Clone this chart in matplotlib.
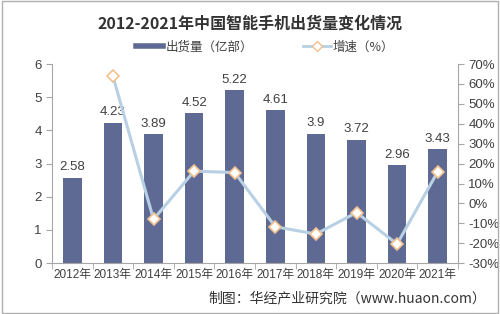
import matplotlib
matplotlib.use("Agg")
import matplotlib.pyplot as plt
from matplotlib.lines import Line2D
from matplotlib.patches import Rectangle

plt.rcParams["font.family"] = ["Noto Sans CJK SC", "DejaVu Sans"]
NUM_FONT = ["Liberation Sans", "Noto Sans CJK SC"]

years = ["2012年", "2013年", "2014年", "2015年", "2016年",
         "2017年", "2018年", "2019年", "2020年", "2021年"]
shipments = [2.58, 4.23, 3.89, 4.52, 5.22, 4.61, 3.9, 3.72, 2.96, 3.43]
growth = [None, 64.0, -8.0, 16.2, 15.5, -11.7, -15.4, -4.6, -20.4, 15.9]
y_ticks = [0, 1, 2, 3, 4, 5, 6]
pct_ticks = [-30, -20, -10, 0, 10, 20, 30, 40, 50, 60, 70]

bar_color = "#5f6a94"
line_color = "#b7d0e4"
marker_edge = "#f2c08e"
axis_color = "#a6a6a6"
text_color = "#404040"

fig = plt.figure(figsize=(5, 3.14), dpi=100)
fig.patches.append(Rectangle((0.004, 0.004), 0.992, 0.992, transform=fig.transFigure,
                             fill=False, edgecolor="#b0b0b0", linewidth=1.0))

ax = fig.add_axes([0.104, 0.162, 0.812, 0.634])
x = list(range(len(years)))
ax.bar(x, shipments, width=0.46, color=bar_color, zorder=2)
for xi, v in zip(x, shipments):
    ax.text(xi, v + 0.13, f"{v:g}", ha="center", va="bottom", fontsize=9.5,
            color=text_color, family=NUM_FONT)

ax.set_xlim(-0.5, len(years) - 0.5)
ax.set_ylim(0, 6)
ax.set_yticks(y_ticks)
ax.set_xticks(x)
ax.set_xticklabels(years, fontsize=8.5, color=text_color, family=NUM_FONT)
ax.set_xticks([i + 0.5 for i in range(-1, len(years))], minor=True)
ax.tick_params(axis="x", which="major", length=0, pad=4)
ax.tick_params(axis="x", which="minor", length=4, color=axis_color, direction="out")
ax.tick_params(axis="y", length=4, color=axis_color, labelsize=9.5, labelcolor=text_color)
for lab in ax.get_yticklabels():
    lab.set_family(NUM_FONT)
for s in ["top", "right"]:
    ax.spines[s].set_visible(False)
for s in ["left", "bottom"]:
    ax.spines[s].set_color(axis_color)

ax2 = ax.twinx()
gx = [xi for xi, g in zip(x, growth) if g is not None]
gy = [g for g in growth if g is not None]
ax2.plot(gx, gy, color=line_color, linewidth=2.2, marker="D", markersize=6,
         markerfacecolor="white", markeredgecolor=marker_edge, markeredgewidth=1.2, zorder=3)
ax2.set_ylim(-30, 70)
ax2.set_yticks(pct_ticks)
ax2.set_yticklabels([f"{t}%" for t in pct_ticks], family=NUM_FONT)
ax2.tick_params(axis="y", length=4, color=axis_color, labelsize=9.5, labelcolor=text_color)
for s in ["top", "left", "bottom"]:
    ax2.spines[s].set_visible(False)
ax2.spines["right"].set_color(axis_color)

fig.text(0.5, 0.925, "2012-2021年中国智能手机出货量变化情况", ha="center", va="center",
         fontsize=11.5, fontweight="bold", color="#333333")

handles = [
    Line2D([0], [0], color=bar_color, linewidth=4),
    Line2D([0], [0], color=line_color, linewidth=2, marker="D", markersize=5,
           markerfacecolor="white", markeredgecolor=marker_edge),
]
fig.legend(handles, ["出货量（亿部）", "增速（%）"], loc="center", bbox_to_anchor=(0.53, 0.85),
           ncol=2, frameon=False, fontsize=9, handlelength=2.2, columnspacing=4,
           handletextpad=0.2, labelcolor=text_color)

fig.text(0.972, 0.05, "制图：华经产业研究院（www.huaon.com）", ha="right", va="center",
         fontsize=10, color="#333333")

fig.savefig("out.png", dpi=100)
